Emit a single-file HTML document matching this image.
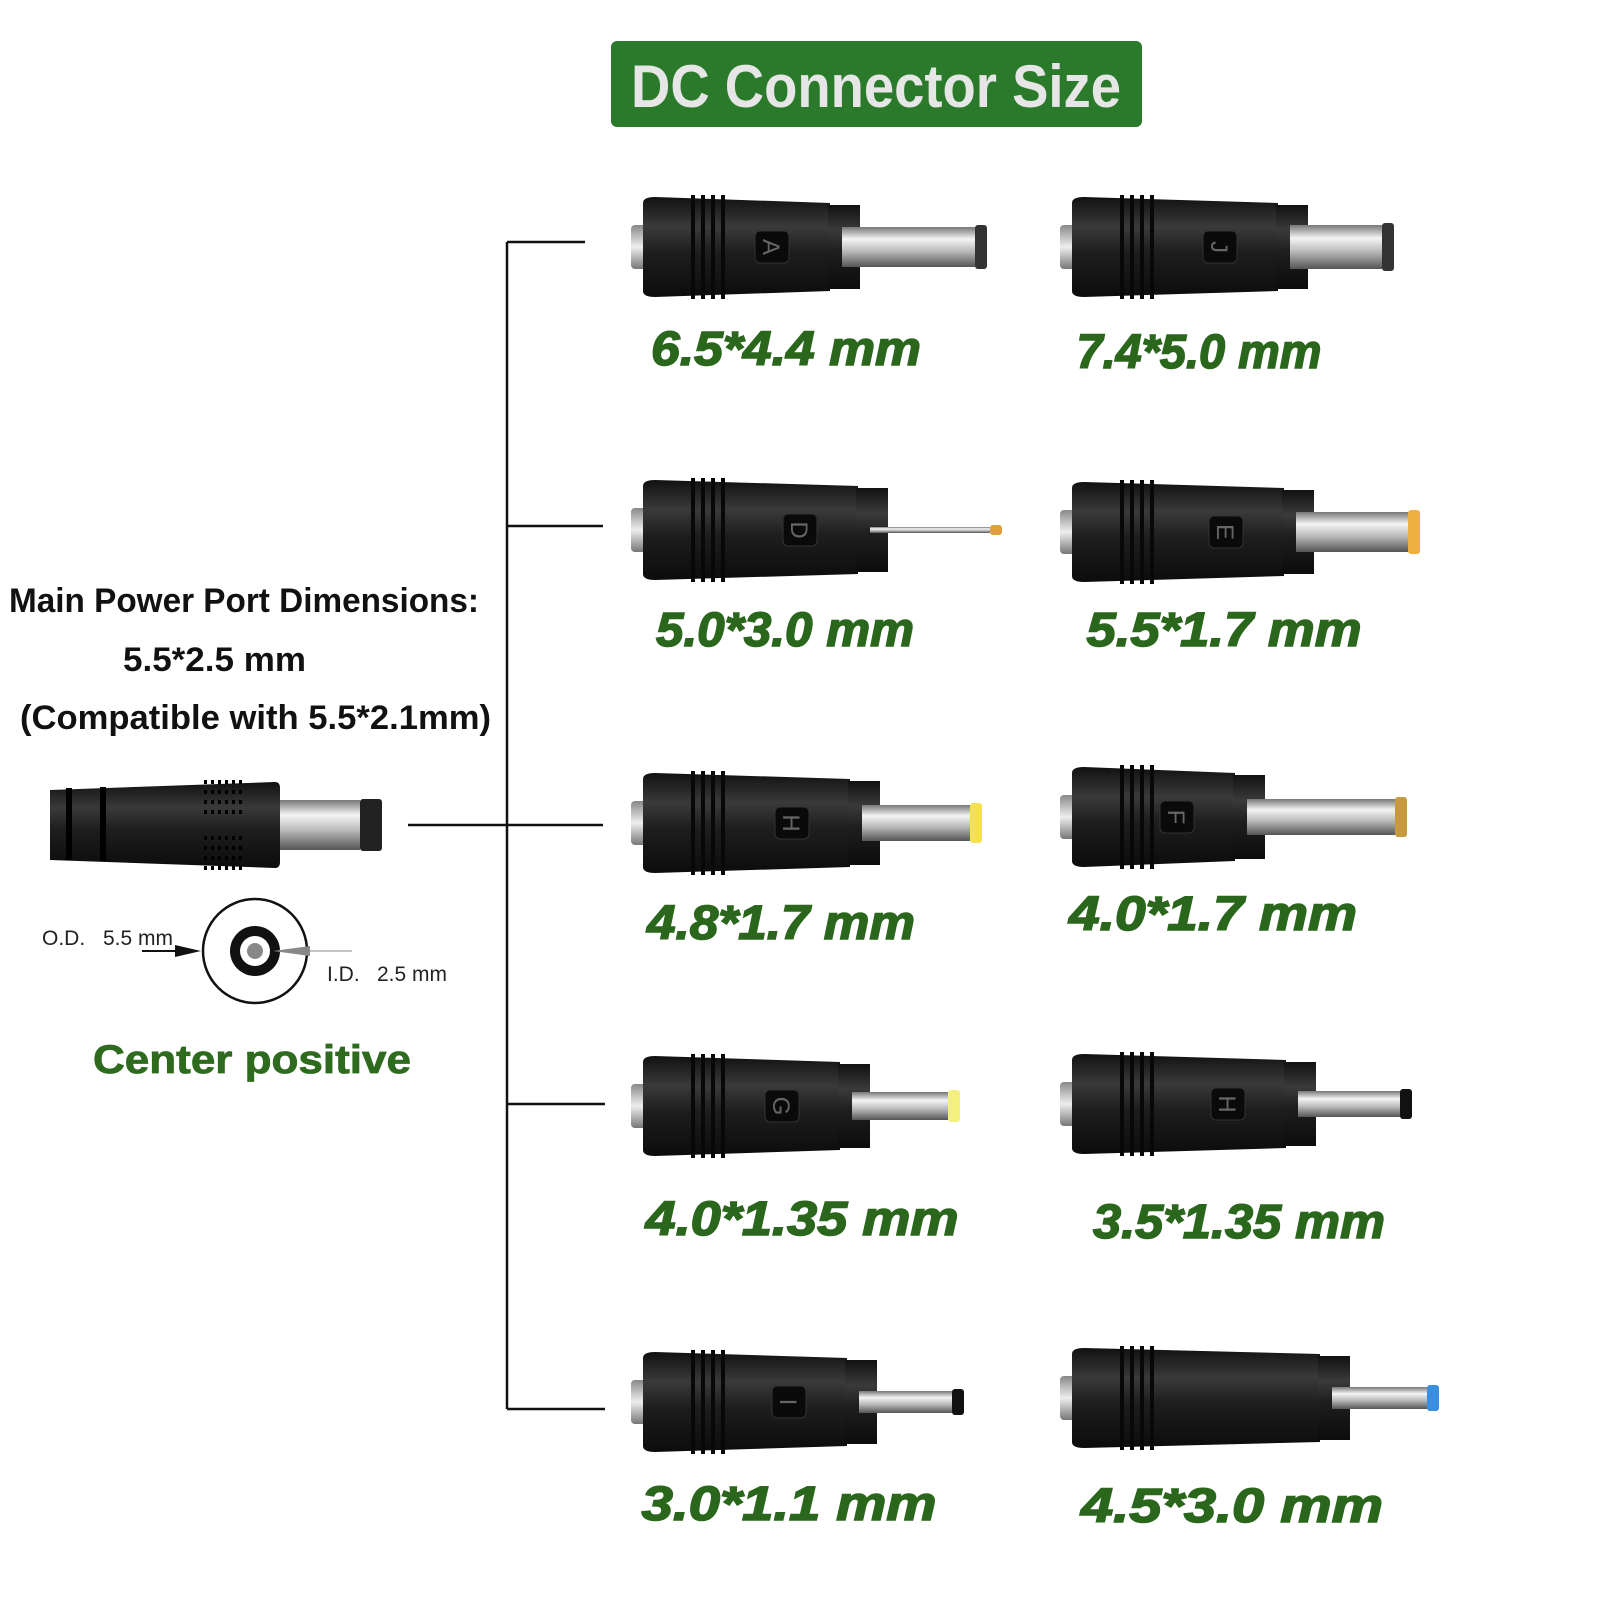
<!DOCTYPE html>
<html><head><meta charset="utf-8"><style>
html,body{margin:0;padding:0;background:#fff;width:1600px;height:1600px;overflow:hidden}
svg{display:block}
</style></head><body>
<svg id="s" width="1600" height="1600" viewBox="0 0 1600 1600" xmlns="http://www.w3.org/2000/svg">
<defs>
<linearGradient id="blk" x1="0" y1="0" x2="0" y2="1">
<stop offset="0" stop-color="#111"/><stop offset="0.3" stop-color="#3a3a3a"/><stop offset="0.55" stop-color="#1e1e1e"/><stop offset="1" stop-color="#0c0c0c"/></linearGradient>
<linearGradient id="met" x1="0" y1="0" x2="0" y2="1">
<stop offset="0" stop-color="#777"/><stop offset="0.3" stop-color="#f4f4f4"/><stop offset="0.6" stop-color="#bbb"/><stop offset="1" stop-color="#555"/></linearGradient>
<linearGradient id="ring" x1="0" y1="0" x2="0" y2="1">
<stop offset="0" stop-color="#888"/><stop offset="0.5" stop-color="#eee"/><stop offset="1" stop-color="#777"/></linearGradient>
</defs>
<rect x="611" y="41" width="531" height="86" rx="6" fill="#2b7a2b"/>
<text x="876" y="107" text-anchor="middle" font-family="Liberation Sans, sans-serif" font-weight="bold" font-size="60" fill="#e6e6e6" textLength="490" lengthAdjust="spacingAndGlyphs">DC Connector Size</text>
<g stroke="#111" stroke-width="2.5" fill="none">
<line x1="507" y1="242" x2="507" y2="1409"/>
<line x1="507" y1="242" x2="585" y2="242"/>
<line x1="507" y1="526" x2="603" y2="526"/>
<line x1="408" y1="825" x2="603" y2="825"/>
<line x1="507" y1="1104" x2="605" y2="1104"/>
<line x1="507" y1="1409" x2="605" y2="1409"/>
</g>
<g font-family="Liberation Sans, sans-serif" font-weight="bold" fill="#111">
<text x="9" y="612" font-size="34" textLength="470" lengthAdjust="spacingAndGlyphs">Main Power Port Dimensions:</text>
<text x="123" y="671" font-size="34" textLength="183" lengthAdjust="spacingAndGlyphs">5.5*2.5 mm</text>
<text x="20" y="729" font-size="34" textLength="471" lengthAdjust="spacingAndGlyphs">(Compatible with 5.5*2.1mm)</text>
</g>
<path d="M50 790 L275 782 Q280 782 280 788 L280 862 Q280 868 275 868 L50 860 Z" fill="url(#blk)"/>
<rect x="66" y="788" width="6" height="72" fill="#000"/><rect x="100" y="787" width="6" height="74" fill="#000"/>
<g fill="none" stroke="#000" stroke-width="4" stroke-dasharray="3 4">
<line x1="204" y1="782" x2="242" y2="782"/><line x1="204" y1="792" x2="242" y2="792"/><line x1="204" y1="802" x2="242" y2="802"/><line x1="204" y1="812" x2="242" y2="812"/>
<line x1="204" y1="838" x2="242" y2="838"/><line x1="204" y1="848" x2="242" y2="848"/><line x1="204" y1="858" x2="242" y2="858"/><line x1="204" y1="868" x2="242" y2="868"/>
</g>
<rect x="280" y="800" width="80" height="50" fill="url(#met)"/>
<rect x="360" y="799" width="22" height="52" rx="3" fill="#222"/>
<g font-family="Liberation Sans, sans-serif" font-size="21" fill="#222">
<text x="42" y="945">O.D.</text><text x="103" y="945">5.5 mm</text>
<text x="327" y="981">I.D.</text><text x="377" y="981">2.5 mm</text>
</g>
<line x1="142" y1="951" x2="180" y2="951" stroke="#111" stroke-width="2"/>
<polygon points="175,945 201,951 175,957" fill="#111"/>
<circle cx="255" cy="951" r="52" fill="#fff" stroke="#111" stroke-width="2.5"/>
<circle cx="255" cy="951" r="25" fill="#111"/>
<circle cx="255" cy="951" r="15" fill="#fff"/>
<circle cx="255" cy="951" r="8" fill="#888"/>
<polygon points="273,951 310,946 310,956" fill="#888"/>
<line x1="310" y1="951" x2="352" y2="951" stroke="#888" stroke-width="1"/>
<text x="252" y="1073" text-anchor="middle" font-family="Liberation Sans, sans-serif" font-weight="bold" font-size="40" fill="#2e6b1e" stroke="#2e6b1e" stroke-width="0.8" textLength="318" lengthAdjust="spacingAndGlyphs">Center positive</text>
<g id="conn"></g>
<g font-family="Liberation Sans, sans-serif" font-weight="bold" font-style="italic" font-size="48" fill="#2a661c" stroke="#2a661c" stroke-width="1.5" text-anchor="middle">
<text x="786" y="365" textLength="270" lengthAdjust="spacingAndGlyphs">6.5*4.4 mm</text>
<text x="1199" y="368" textLength="245" lengthAdjust="spacingAndGlyphs">7.4*5.0 mm</text>
<text x="785" y="646" textLength="258" lengthAdjust="spacingAndGlyphs">5.0*3.0 mm</text>
<text x="1224" y="646" textLength="275" lengthAdjust="spacingAndGlyphs">5.5*1.7 mm</text>
<text x="781" y="939" textLength="268" lengthAdjust="spacingAndGlyphs">4.8*1.7 mm</text>
<text x="1213" y="930" textLength="288" lengthAdjust="spacingAndGlyphs">4.0*1.7 mm</text>
<text x="802" y="1235" textLength="313" lengthAdjust="spacingAndGlyphs">4.0*1.35 mm</text>
<text x="1239" y="1238" textLength="292" lengthAdjust="spacingAndGlyphs">3.5*1.35 mm</text>
<text x="789" y="1520" textLength="295" lengthAdjust="spacingAndGlyphs">3.0*1.1 mm</text>
<text x="1232" y="1522" textLength="302" lengthAdjust="spacingAndGlyphs">4.5*3.0 mm</text>
</g>
</svg>
<script>
var C=[
[631,247,860,985,40,'#333','A'],[1060,247,1308,1392,44,'#333','J'],
[631,530,888,1000,6,'#e0a040','D'],[1060,532,1314,1418,40,'#f0b040','E'],
[631,823,880,980,36,'#f4e050','H'],[1060,817,1265,1405,36,'#c89a40','F'],
[631,1106,870,958,28,'#f4f080','G'],[1060,1104,1316,1410,26,'#111','H'],
[631,1402,877,962,22,'#111','I'],[1060,1398,1350,1437,22,'#3a8ee0','']];
var h='';
C.forEach(function(c){var x=c[0],y=c[1],be=c[2],pe=c[3],ph=c[4];
var bh=100;
h+='<rect x="'+x+'" y="'+(y-22)+'" width="20" height="44" rx="4" fill="url(#ring)"/>';
h+='<path d="M'+(x+12)+' '+(y-bh/2+6)+' Q'+(x+12)+' '+(y-bh/2)+' '+(x+24)+' '+(y-bh/2)+' L'+(be-30)+' '+(y-bh/2+6)+' L'+(be-30)+' '+(y+bh/2-6)+' L'+(x+24)+' '+(y+bh/2)+' Q'+(x+12)+' '+(y+bh/2)+' '+(x+12)+' '+(y+bh/2-6)+' Z" fill="url(#blk)"/>';
h+='<rect x="'+(be-32)+'" y="'+(y-bh/2+8)+'" width="32" height="'+(bh-16)+'" fill="url(#blk)"/>';
for(var i=0;i<4;i++)h+='<rect x="'+(x+60+i*10)+'" y="'+(y-bh/2-2)+'" width="4" height="'+(bh+4)+'" fill="#080808"/>';
h+='<rect x="'+(be-18)+'" y="'+(y-ph/2)+'" width="'+(pe-be+8)+'" height="'+ph+'" fill="url(#met)"/>';
h+='<rect x="'+(pe-10)+'" y="'+(y-ph/2-2)+'" width="12" height="'+(ph+4)+'" rx="3" fill="'+c[5]+'"/>';
if(c[6]){var lx=be-105;h+='<rect x="'+lx+'" y="'+(y-16)+'" width="34" height="32" rx="5" fill="#0a0a0a" stroke="#333"/><text x="'+(lx+17)+'" y="'+(y+9)+'" text-anchor="middle" font-family="Liberation Sans" font-size="24" fill="#666" transform="rotate(90 '+(lx+17)+' '+y+')">'+c[6]+'</text>';}
});
document.getElementById('conn').innerHTML=h;
</script>
</body></html>
